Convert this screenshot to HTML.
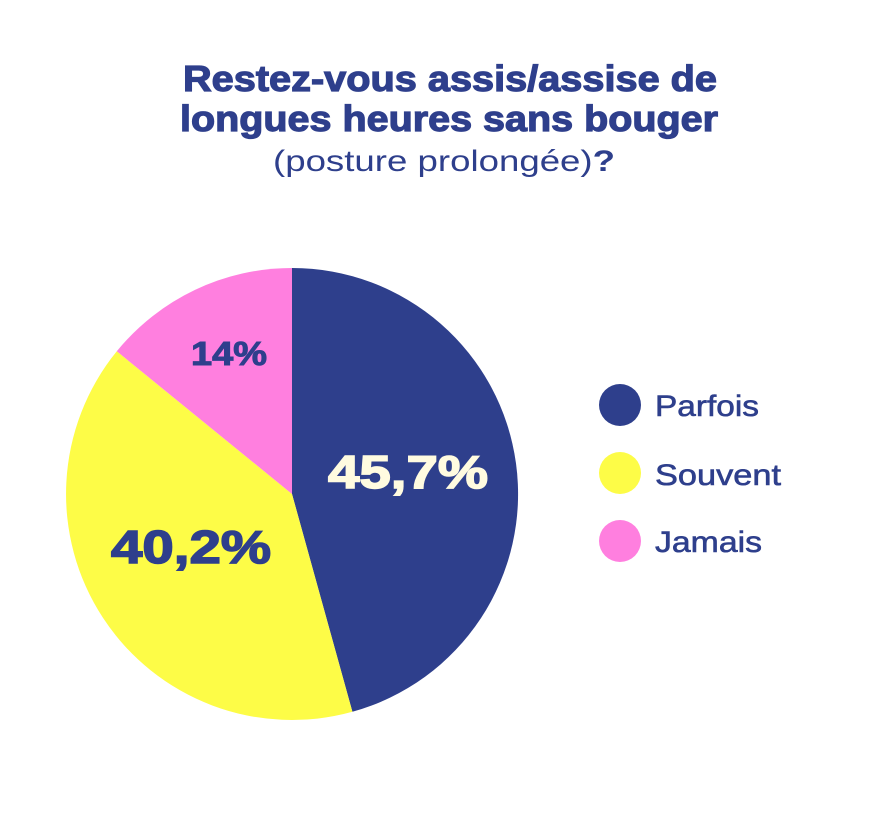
<!DOCTYPE html>
<html><head><meta charset="utf-8"><style>
html,body{margin:0;padding:0;background:#fff;}
svg{display:block;}
</style></head><body>
<svg width="888" height="834" viewBox="0 0 888 834" xmlns="http://www.w3.org/2000/svg">
<rect width="888" height="834" fill="#fff"/>
<g fill="#2e3f8c" font-family="Liberation Sans, sans-serif" text-anchor="middle">
<text x="450" y="91" font-size="36" font-weight="bold" textLength="534" lengthAdjust="spacingAndGlyphs" stroke="#2e3f8c" stroke-width="1.2">Restez-vous assis/assise de</text>
<text x="449" y="131" font-size="36" font-weight="bold" textLength="538" lengthAdjust="spacingAndGlyphs" stroke="#2e3f8c" stroke-width="1.2">longues heures sans bouger</text>
<text x="444" y="171" font-size="30" textLength="342" lengthAdjust="spacingAndGlyphs">(posture prolongée)<tspan font-weight="bold">?</tspan></text>
</g>
<path d="M292,494 L292,268 A226,226 0 0,1 352.4,711.8 Z" fill="#2e3f8c"/>
<path d="M292,494 L352.4,711.8 A226,226 0 0,1 116.8,351.3 Z" fill="#fdfc47"/>
<path d="M292,494 L116.8,351.3 A226,226 0 0,1 292,268 Z" fill="#ff7fdf"/>
<g font-family="Liberation Sans, sans-serif" font-weight="bold" text-anchor="middle">
<text x="408" y="488" font-size="46" fill="#fffbe0" stroke="#fffbe0" stroke-width="1.5" textLength="160" lengthAdjust="spacingAndGlyphs">45,7%</text>
<text x="191" y="563" font-size="46" fill="#2e3f8c" stroke="#2e3f8c" stroke-width="1.5" textLength="160" lengthAdjust="spacingAndGlyphs">40,2%</text>
<text x="229" y="365" font-size="33" fill="#2e3f8c" stroke="#2e3f8c" stroke-width="1" textLength="76" lengthAdjust="spacingAndGlyphs">14%</text>
</g>
<circle cx="620" cy="405" r="21" fill="#2e3f8c"/>
<circle cx="620" cy="473" r="21" fill="#fdfc47"/>
<circle cx="620" cy="541" r="21" fill="#ff7fdf"/>
<g font-family="Liberation Sans, sans-serif" font-size="30" fill="#2e3f8c" stroke="#2e3f8c" stroke-width="0.6" lengthAdjust="spacingAndGlyphs">
<text x="655" y="416" textLength="104" lengthAdjust="spacingAndGlyphs">Parfois</text>
<text x="655" y="485" textLength="126" lengthAdjust="spacingAndGlyphs">Souvent</text>
<text x="655" y="552" textLength="107" lengthAdjust="spacingAndGlyphs">Jamais</text>
</g>
</svg>
</body></html>
